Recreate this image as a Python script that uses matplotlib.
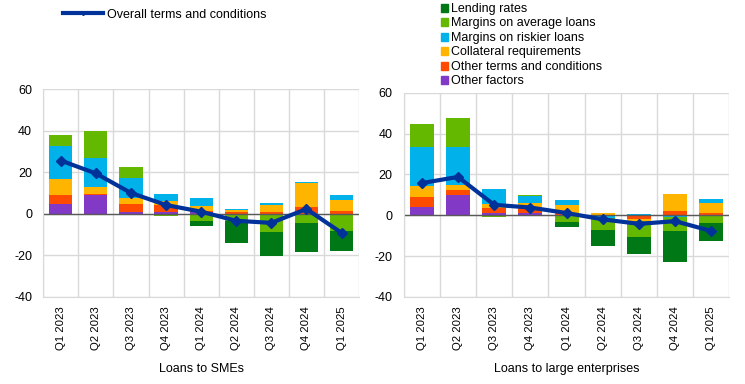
import numpy as np
import matplotlib
matplotlib.use('Agg')
from matplotlib import pyplot as plt
from matplotlib.patches import Patch
from matplotlib.lines import Line2D

plt.rcParams['font.family'] = ['Liberation Sans', 'DejaVu Sans']
plt.rcParams['axes.unicode_minus'] = False

quarters = ['Q1 2023', 'Q2 2023', 'Q3 2023', 'Q4 2023', 'Q1 2024',
            'Q2 2024', 'Q3 2024', 'Q4 2024', 'Q1 2025']

series_names = ['Lending rates', 'Margins on average loans', 'Margins on riskier loans',
                'Collateral requirements', 'Other terms and conditions', 'Other factors']
colors = ['#007816', '#65B800', '#00B1EA', '#FFB400', '#FF4B00', '#8139C6']

# SMEs
sme_lending = [0, 0, 0, 0, -2.3, -10.8, -11.5, -13.5, -9.6]
sme_avg = [5.2, 12.9, 5.1, -1.1, -3.7, -3.4, -9.0, -4.7, -8.1]
sme_risky = [16.1, 14.2, 9.7, 3.2, 3.9, 0.5, 1.0, 0.5, 2.3]
sme_collat = [7.7, 3.2, 3.1, 2.2, 2.4, 1.0, 3.4, 11.6, 5.5]
sme_other = [4.4, 0.6, 3.9, 3.2, 0.8, 0.6, 0.6, 3.1, 1.1]
sme_factors = [4.5, 8.9, 0.6, 0.8, 0.7, 0, 0, 0, 0]
sme_overall = [25.6, 19.4, 10.0, 4.2, 1.0, -3.4, -4.4, 2.3, -9.2]

# large enterprises
le_lending = [0, 0, 0, 0, -2.4, -7.7, -8.2, -15.1, -8.8]
le_avg = [11.5, 14.2, -0.8, 0.4, -3.3, -5.9, -8.0, -6.7, -3.8]
le_risky = [18.9, 18.6, 7.3, 3.7, 2.4, -1.3, 0.7, -1.0, 2.2]
le_collat = [5.4, 2.2, 1.9, 2.3, 3.8, 1.1, -0.8, 8.3, 4.9]
le_other = [5.0, 2.6, 2.7, 2.3, 1.3, 0, -1.8, 2.1, 1.1]
le_factors = [4.1, 10.0, 1.1, 1.3, 0, 0, 0, 0, 0]
le_overall = [15.8, 18.8, 5.1, 3.8, 1.1, -2.0, -4.2, -2.9, -7.7]


def draw_panel(ax, parts, overall, title):
    x = np.arange(len(quarters))
    pos = np.zeros(len(quarters))
    neg = np.zeros(len(quarters))
    # stack from zero outward: other factors first, lending rates last
    for vals, col in reversed(list(zip(parts, colors))):
        vals = np.array(vals)
        bottom = np.where(vals >= 0, pos, neg)
        ax.bar(x, vals, bottom=bottom, width=0.66, color=col, zorder=2)
        pos += np.where(vals >= 0, vals, 0)
        neg += np.where(vals < 0, vals, 0)
    ax.plot(x, overall, color='#003299', lw=3, marker='D', ms=5, zorder=3)
    ax.axhline(0, color='#595959', lw=1, zorder=2.5)

    ax.set_xlim(-0.5, len(quarters) - 0.5)
    ax.set_ylim(-40, 60)
    ax.set_yticks([-40, -20, 0, 20, 40, 60])
    ax.set_xticks(x)
    ax.set_xticklabels(quarters, rotation=90, fontsize=8.2)
    ax.set_xticks(np.arange(-0.5, len(quarters)), minor=True)
    ax.grid(False)
    ax.yaxis.grid(True, color='#D9D9D9', lw=1, zorder=0)
    ax.xaxis.grid(True, which='minor', color='#D9D9D9', lw=1, zorder=0)
    ax.tick_params(axis='both', which='both', length=0, colors='black')
    ax.tick_params(axis='y', labelsize=9, pad=8)
    ax.tick_params(axis='x', pad=7)
    for side in ['top', 'right']:
        ax.spines[side].set_visible(False)
    for side in ['left', 'bottom']:
        ax.spines[side].set_color('#D9D9D9')
    ax.set_xlabel(title, fontsize=9, labelpad=9)


fig = plt.figure(figsize=(7.45, 3.84), dpi=100)
ax1 = fig.add_axes([0.058, 0.227, 0.424, 0.541])
ax2 = fig.add_axes([0.542, 0.227, 0.437, 0.531])

draw_panel(ax1, [sme_lending, sme_avg, sme_risky, sme_collat, sme_other, sme_factors],
           sme_overall, 'Loans to SMEs')
draw_panel(ax2, [le_lending, le_avg, le_risky, le_collat, le_other, le_factors],
           le_overall, 'Loans to large enterprises')

line_handle = [Line2D([0], [0], color='#003299', lw=3, marker='D', ms=2)]
fig.legend(line_handle, ['Overall terms and conditions'], loc='upper left',
           bbox_to_anchor=(0.073, 1.0), frameon=False, fontsize=9,
           handlelength=3.2, handletextpad=0.3, borderaxespad=0.3)

bar_handles = [Patch(color=c) for c in colors]
fig.legend(bar_handles, series_names, loc='upper left',
           bbox_to_anchor=(0.58, 1.015), frameon=False, fontsize=9,
           handlelength=0.6, handleheight=0.6, handletextpad=0.2,
           labelspacing=0.2, borderaxespad=0.3)

fig.savefig('out.png', dpi=100)
